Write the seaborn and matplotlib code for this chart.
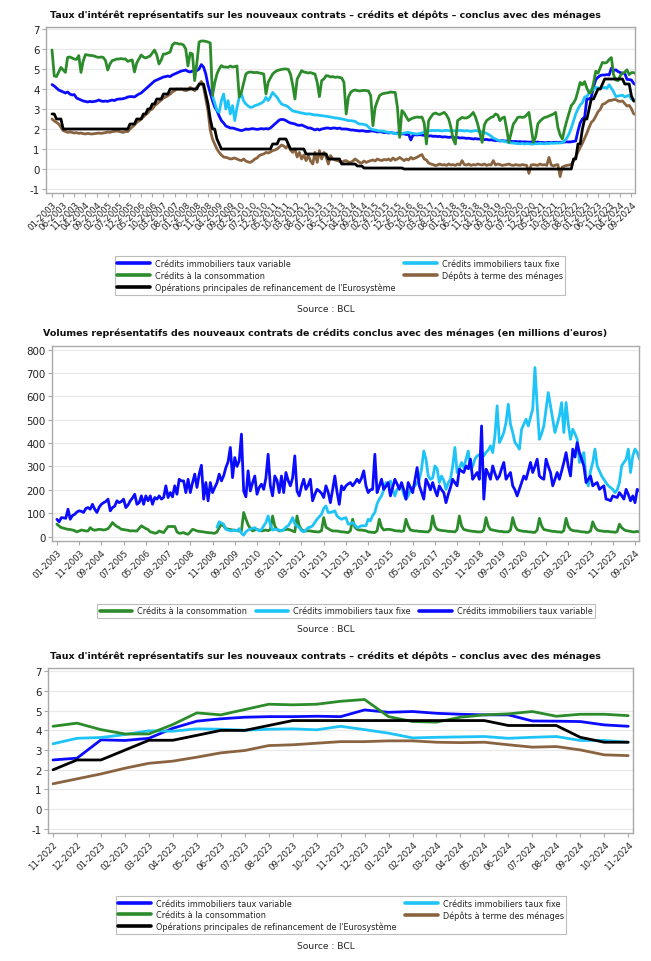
import numpy as np
import pandas as pd
import matplotlib
matplotlib.use("Agg")
import matplotlib.pyplot as plt
from matplotlib.lines import Line2D
import seaborn as sns

# ---------------- data (monthly, 01-2003 .. 11-2024) ----------------
START_YEAR = 2003

rate_variable = [
    4.22, 4.15, 4.05, 3.95, 3.9, 3.85, 3.8, 3.85, 3.75, 3.7, 3.72, 3.55,
    3.5, 3.45, 3.4, 3.38, 3.35, 3.38, 3.36, 3.38, 3.4, 3.45, 3.4, 3.38,
    3.4, 3.38, 3.42, 3.45, 3.42, 3.48, 3.5, 3.5, 3.52, 3.55, 3.6, 3.62,
    3.62, 3.6, 3.68, 3.75, 3.8, 3.9, 4.0, 4.1, 4.2, 4.3, 4.4, 4.45,
    4.5, 4.55, 4.6, 4.62, 4.65, 4.62, 4.7, 4.75, 4.8, 4.85, 4.9, 4.92,
    4.95, 4.88, 4.85, 4.9, 4.9, 4.92, 5.0, 5.22, 5.1, 4.75, 4.2, 3.8,
    3.42, 3.1, 2.92, 2.65, 2.42, 2.3, 2.15, 2.1, 2.05, 2.05, 2.02, 1.98,
    1.95, 1.92, 1.95, 2.0, 1.98, 2.0, 2.02, 2.0, 1.98, 2.0, 2.02, 2.0,
    2.02, 2.0, 2.05, 2.15, 2.25, 2.35, 2.45, 2.48, 2.47, 2.42, 2.35, 2.3,
    2.28, 2.25, 2.2, 2.18, 2.2, 2.15, 2.1, 2.05, 2.05, 2.0, 1.95, 2.0,
    1.95, 2.0, 2.02, 2.05, 2.05, 2.02, 2.05, 2.05, 2.02, 2.05, 2.0, 2.0,
    2.0, 1.98, 1.95, 1.95, 1.93, 1.92, 1.9, 1.92, 1.9, 1.88, 1.88, 1.9,
    1.9, 1.88, 1.85, 1.87, 1.85, 1.82, 1.83, 1.8, 1.82, 1.8, 1.78, 1.8,
    1.78, 1.75, 1.76, 1.72, 1.74, 1.45, 1.7, 1.71, 1.7, 1.72, 1.7, 1.68,
    1.67, 1.65, 1.66, 1.63, 1.64, 1.62, 1.63, 1.6, 1.61, 1.6, 1.58, 1.6,
    1.58, 1.57, 1.58, 1.55, 1.56, 1.55, 1.53, 1.54, 1.52, 1.5, 1.52, 1.5,
    1.5, 1.48, 1.47, 1.48, 1.45, 1.46, 1.44, 1.42, 1.43, 1.4, 1.42, 1.4,
    1.4, 1.38, 1.39, 1.37, 1.38, 1.36, 1.37, 1.35, 1.36, 1.35, 1.34, 1.35,
    1.34, 1.33, 1.35, 1.32, 1.33, 1.31, 1.32, 1.33, 1.32, 1.33, 1.34, 1.33,
    1.34, 1.33, 1.35, 1.36, 1.35, 1.36, 1.38, 1.4, 1.9, 2.3, 2.5, 2.59,
    3.52, 3.49, 3.6, 4.11, 4.47, 4.59, 4.67, 4.7, 4.7, 4.72, 4.7, 5.04,
    4.92, 4.96, 4.87, 4.82, 4.79, 4.79, 4.48, 4.47, 4.45, 4.28, 4.21,
]

# fixed-rate mortgages start in 01-2009
FIXED_START = 72
rate_fixed = [
    3.67, 3.3, 2.95, 2.83, 3.42, 3.75, 3.0, 3.42, 2.75, 3.17, 2.42, 3.08,
    3.58, 3.75, 3.4, 3.25, 3.15, 3.08, 3.1, 3.17, 3.2, 3.25, 3.3, 3.38,
    3.58, 3.42, 3.6, 3.83, 3.7, 3.58, 3.4, 3.25, 3.2, 3.17, 3.1, 3.0,
    2.9, 2.88, 2.85, 2.83, 2.8, 2.78, 2.75, 2.76, 2.75, 2.72, 2.7, 2.7,
    2.68, 2.67, 2.65, 2.64, 2.62, 2.6, 2.58, 2.55, 2.55, 2.52, 2.5, 2.48,
    2.45, 2.42, 2.42, 2.4, 2.38, 2.3, 2.25, 2.25, 2.22, 2.2, 2.1, 2.0,
    1.97, 1.95, 1.92, 1.9, 1.9, 1.88, 1.85, 1.83, 1.82, 1.8, 1.78, 1.75,
    1.76, 1.78, 1.8, 1.82, 1.83, 1.8, 1.78, 1.76, 1.75, 1.78, 1.8, 1.85,
    1.88, 1.9, 1.92, 1.93, 1.92, 1.93, 1.92, 1.9, 1.92, 1.93, 1.92, 1.9,
    1.92, 1.9, 1.92, 1.93, 1.92, 1.9, 1.92, 1.9, 1.88, 1.9, 1.92, 1.9,
    1.88, 1.85, 1.82, 1.78, 1.72, 1.65, 1.55, 1.5, 1.45, 1.42, 1.4, 1.38,
    1.35, 1.32, 1.3, 1.3, 1.28, 1.27, 1.26, 1.28, 1.25, 1.27, 1.26, 1.25,
    1.25, 1.27, 1.26, 1.28, 1.27, 1.26, 1.28, 1.27, 1.3, 1.28, 1.3, 1.3,
    1.3, 1.32, 1.4, 1.55, 1.75, 2.05, 2.4, 2.75, 3.0, 3.2, 3.32, 3.6,
    3.64, 3.79, 3.98, 3.96, 4.08, 4.06, 4.01, 4.06, 4.08, 4.03, 4.21, 4.04,
    3.86, 3.62, 3.65, 3.67, 3.69, 3.6, 3.65, 3.69, 3.49, 3.49, 3.4,
]

rate_consumption = [
    5.95, 4.65, 4.62, 4.85, 5.08, 4.95, 4.83, 5.58, 5.6, 5.55, 5.5, 5.48,
    5.67, 4.83, 5.4, 5.72, 5.7, 5.68, 5.67, 5.65, 5.6, 5.58, 5.6, 5.58,
    5.42, 4.95, 5.25, 5.42, 5.45, 5.5, 5.5, 5.52, 5.5, 5.5, 5.38, 5.42,
    5.45, 4.85, 5.3, 5.5, 5.7, 5.6, 5.55, 5.6, 5.65, 5.8, 5.95, 5.7,
    5.25, 5.45, 5.75, 5.75, 5.8, 5.85, 6.2, 6.3, 6.28, 6.25, 6.25, 6.2,
    6.0, 5.15, 5.8, 5.75, 4.42, 5.3, 6.35, 6.4, 6.4, 6.38, 6.35, 6.3,
    3.67, 4.3, 4.75, 5.0, 5.17, 5.1, 5.1, 5.08, 5.15, 5.1, 5.12, 5.15,
    3.6, 3.85, 4.3, 4.75, 4.83, 4.85, 4.83, 4.82, 4.83, 4.8, 4.78, 4.75,
    3.75, 4.33, 4.55, 4.75, 4.85, 4.92, 4.95, 4.98, 5.0, 5.0, 4.98, 4.75,
    4.2, 3.5, 4.5, 4.7, 4.92, 4.85, 4.83, 4.8, 4.82, 4.78, 4.75, 4.33,
    3.62, 4.42, 4.5, 4.67, 4.65, 4.6, 4.62, 4.58, 4.6, 4.58, 4.55, 4.33,
    2.75, 3.6, 3.83, 3.92, 3.95, 3.92, 3.9, 3.92, 3.93, 3.92, 3.9, 3.67,
    2.17, 3.08, 3.4, 3.67, 3.75, 3.78, 3.8, 3.82, 3.85, 3.83, 3.83, 3.08,
    1.58, 2.92, 2.8, 2.6, 2.42, 2.5, 2.55, 2.58, 2.6, 2.58, 2.6, 2.3,
    1.25, 2.42, 2.6, 2.75, 2.8, 2.75, 2.72, 2.78, 2.83, 2.7, 2.5, 2.08,
    1.5, 1.25, 2.42, 2.5, 2.58, 2.55, 2.55, 2.6, 2.7, 2.83, 2.6, 2.25,
    1.8, 1.33, 2.2, 2.42, 2.5, 2.58, 2.62, 2.75, 2.7, 2.42, 2.55, 2.6,
    2.0, 1.33, 1.8, 2.25, 2.4, 2.58, 2.6, 2.58, 2.6, 2.7, 2.83, 2.08,
    1.33, 1.6, 2.25, 2.4, 2.5, 2.58, 2.6, 2.65, 2.7, 2.75, 2.83, 2.08,
    1.7, 1.5, 2.0, 2.42, 2.8, 3.17, 3.3, 3.5, 3.9, 4.33, 4.21, 4.37,
    4.04, 3.82, 3.82, 4.3, 4.89, 4.79, 5.06, 5.33, 5.3, 5.33, 5.48, 5.57,
    4.7, 4.45, 4.42, 4.67, 4.79, 4.84, 4.96, 4.72, 4.82, 4.82, 4.75,
]

rate_deposits = [
    2.5, 2.4, 2.33, 2.25, 2.08, 1.92, 1.88, 1.83, 1.85, 1.83, 1.8, 1.82,
    1.78, 1.8, 1.77, 1.75, 1.78, 1.76, 1.75, 1.77, 1.78, 1.8, 1.78, 1.8,
    1.82, 1.85, 1.83, 1.87, 1.88, 1.9, 1.88, 1.85, 1.83, 1.88, 1.87, 2.0,
    2.1, 2.2, 2.33, 2.4, 2.5, 2.6, 2.72, 2.8, 2.95, 3.0, 3.15, 3.25,
    3.35, 3.45, 3.55, 3.6, 3.67, 3.75, 3.85, 3.92, 4.0, 3.98, 4.0, 3.95,
    3.92, 3.95, 4.08, 4.0, 3.92, 4.1, 4.2, 4.38, 4.1, 3.5, 2.9, 1.95,
    1.5, 1.25, 1.0, 0.83, 0.7, 0.6, 0.58, 0.55, 0.5, 0.52, 0.55, 0.5,
    0.45, 0.42, 0.5, 0.4, 0.35, 0.33, 0.4, 0.5, 0.55, 0.67, 0.72, 0.75,
    0.83, 0.8, 0.85, 0.92, 0.95, 1.0, 1.1, 1.2, 1.15, 1.05, 1.2, 0.95,
    0.83, 1.0, 0.6, 0.83, 0.5, 0.7, 0.42, 0.67, 0.4, 0.25, 0.83, 0.33,
    0.92, 0.5, 0.83, 0.6, 0.25, 0.67, 0.5, 0.45, 0.42, 0.38, 0.33, 0.4,
    0.42, 0.35, 0.33, 0.4, 0.5, 0.42, 0.33, 0.3, 0.4, 0.33, 0.38, 0.42,
    0.45, 0.4, 0.5, 0.45, 0.42, 0.48, 0.45, 0.5, 0.42, 0.55, 0.45, 0.5,
    0.58, 0.5, 0.42, 0.5, 0.45, 0.58, 0.5, 0.55, 0.6, 0.67, 0.72, 0.5,
    0.45, 0.3, 0.25, 0.22, 0.17, 0.2, 0.25, 0.2, 0.22, 0.18, 0.25, 0.2,
    0.22, 0.18, 0.25, 0.2, 0.42, 0.22, 0.2, 0.25, 0.18, 0.22, 0.2, 0.25,
    0.22, 0.2, 0.25, 0.18, 0.22, 0.2, 0.42, 0.2, 0.25, 0.22, 0.18, 0.2,
    0.22, 0.25, 0.2, 0.18, 0.22, 0.2, 0.18, 0.22, 0.2, 0.18, -0.22, 0.2,
    0.22, 0.2, 0.18, 0.25, 0.2, 0.22, 0.18, 0.58, 0.2, 0.15, 0.2, 0.22,
    -0.38, 0.1, 0.15, 0.18, 0.2, 0.22, 0.4, 0.6, 0.85, 1.08, 1.29, 1.54,
    1.79, 2.08, 2.33, 2.44, 2.64, 2.86, 2.98, 3.23, 3.27, 3.35, 3.43, 3.43,
    3.47, 3.47, 3.4, 3.38, 3.4, 3.27, 3.15, 3.18, 3.01, 2.76, 2.72,
]

rate_mro = [
    2.75, 2.75, 2.5, 2.5, 2.5, 2.0, 2.0, 2.0, 2.0, 2.0, 2.0, 2.0,
    2.0, 2.0, 2.0, 2.0, 2.0, 2.0, 2.0, 2.0, 2.0, 2.0, 2.0, 2.0,
    2.0, 2.0, 2.0, 2.0, 2.0, 2.0, 2.0, 2.0, 2.0, 2.0, 2.0, 2.25,
    2.25, 2.25, 2.5, 2.5, 2.5, 2.75, 2.75, 3.0, 3.0, 3.25, 3.25, 3.5,
    3.5, 3.5, 3.75, 3.75, 3.75, 4.0, 4.0, 4.0, 4.0, 4.0, 4.0, 4.0,
    4.0, 4.0, 4.0, 4.0, 4.0, 4.0, 4.25, 4.25, 4.25, 3.75, 3.25, 2.5,
    2.0, 2.0, 1.5, 1.25, 1.0, 1.0, 1.0, 1.0, 1.0, 1.0, 1.0, 1.0,
    1.0, 1.0, 1.0, 1.0, 1.0, 1.0, 1.0, 1.0, 1.0, 1.0, 1.0, 1.0,
    1.0, 1.0, 1.0, 1.25, 1.25, 1.25, 1.5, 1.5, 1.5, 1.5, 1.25, 1.0,
    1.0, 1.0, 1.0, 1.0, 1.0, 1.0, 0.75, 0.75, 0.75, 0.75, 0.75, 0.75,
    0.75, 0.75, 0.75, 0.75, 0.5, 0.5, 0.5, 0.5, 0.5, 0.5, 0.25, 0.25,
    0.25, 0.25, 0.25, 0.25, 0.25, 0.15, 0.15, 0.15, 0.05, 0.05, 0.05, 0.05,
    0.05, 0.05, 0.05, 0.05, 0.05, 0.05, 0.05, 0.05, 0.05, 0.05, 0.05, 0.05,
    0.05, 0.05, 0.0, 0.0, 0.0, 0.0, 0.0, 0.0, 0.0, 0.0, 0.0, 0.0,
    0.0, 0.0, 0.0, 0.0, 0.0, 0.0, 0.0, 0.0, 0.0, 0.0, 0.0, 0.0,
    0.0, 0.0, 0.0, 0.0, 0.0, 0.0, 0.0, 0.0, 0.0, 0.0, 0.0, 0.0,
    0.0, 0.0, 0.0, 0.0, 0.0, 0.0, 0.0, 0.0, 0.0, 0.0, 0.0, 0.0,
    0.0, 0.0, 0.0, 0.0, 0.0, 0.0, 0.0, 0.0, 0.0, 0.0, 0.0, 0.0,
    0.0, 0.0, 0.0, 0.0, 0.0, 0.0, 0.0, 0.0, 0.0, 0.0, 0.0, 0.0,
    0.0, 0.0, 0.0, 0.0, 0.0, 0.0, 0.5, 0.5, 1.25, 1.25, 2.0, 2.5,
    2.5, 3.0, 3.5, 3.5, 3.75, 4.0, 4.0, 4.25, 4.5, 4.5, 4.5, 4.5,
    4.5, 4.5, 4.5, 4.5, 4.5, 4.25, 4.25, 4.25, 3.65, 3.4, 3.4,
]

vol_consumption = [
    53, 45, 38, 36, 33, 31, 30, 28, 25, 20, 24, 28,
    26, 24, 24, 38, 30, 27, 29, 31, 30, 28, 30, 34,
    45, 60, 50, 43, 38, 31, 30, 28, 27, 24, 25, 24,
    24, 35, 46, 40, 34, 30, 20, 18, 14, 16, 24, 20,
    17, 30, 43, 43, 43, 43, 20, 14, 15, 17, 12, 10,
    20, 31, 28, 24, 22, 21, 20, 18, 17, 16, 15, 14,
    20, 38, 53, 45, 34, 32, 30, 28, 27, 25, 24, 24,
    103, 75, 50, 35, 24, 28, 31, 27, 24, 26, 28, 25,
    30, 88, 45, 30, 24, 26, 28, 30, 31, 28, 24, 20,
    88, 46, 30, 24, 24, 25, 24, 22, 21, 20, 20, 25,
    81, 40, 34, 28, 24, 24, 24, 22, 20, 20, 18, 17,
    25, 74, 40, 31, 28, 28, 26, 25, 20, 19, 18, 17,
    25, 74, 40, 28, 30, 31, 30, 28, 25, 24, 24, 22,
    25, 74, 45, 28, 26, 24, 24, 22, 22, 21, 20, 20,
    30, 88, 45, 31, 28, 26, 25, 24, 22, 22, 21, 20,
    30, 88, 45, 30, 28, 25, 24, 22, 22, 20, 20, 20,
    28, 81, 45, 30, 28, 26, 24, 22, 22, 20, 20, 20,
    28, 81, 46, 30, 26, 24, 22, 22, 20, 20, 18, 18,
    28, 78, 46, 30, 28, 26, 24, 22, 22, 20, 20, 18,
    26, 78, 44, 30, 26, 24, 24, 22, 20, 20, 18, 18,
    24, 63, 40, 28, 25, 24, 22, 22, 22, 20, 20, 18,
    22, 53, 38, 30, 25, 24, 22, 20, 20, 22, 20,
]

vol_fixed = [  # from 01-2009
    40, 63, 58, 53, 31, 28, 24, 26, 28, 24, 34, 14,
    6, 20, 28, 32, 35, 38, 30, 24, 30, 45, 60, 88,
    50, 28, 31, 30, 28, 24, 30, 40, 46, 60, 81, 55,
    45, 38, 25, 20, 28, 38, 40, 46, 60, 74, 85, 95,
    120, 131, 103, 103, 106, 110, 88, 80, 74, 78, 81, 53,
    55, 60, 50, 38, 42, 46, 46, 46, 74, 67, 90, 103,
    140, 160, 174, 200, 231, 217, 238, 200, 174, 202, 210, 217,
    180, 160, 174, 200, 210, 217, 230, 245, 288, 366, 331, 260,
    245, 250, 302, 290, 231, 259, 240, 202, 230, 245, 300, 381,
    274, 290, 317, 295, 330, 366, 288, 300, 331, 345, 350, 359,
    345, 360, 370, 388, 359, 431, 559, 402, 420, 445, 488, 566,
    480, 445, 402, 390, 374, 459, 480, 502, 473, 510, 545, 723,
    559, 416, 440, 473, 545, 616, 560, 502, 445, 480, 516, 573,
    445, 573, 480, 416, 459, 440, 416, 317, 340, 359, 245, 217,
    280, 317, 374, 302, 280, 259, 245, 230, 217, 210, 202, 188,
    200, 231, 302, 317, 330, 374, 274, 345, 374, 360, 331,
]

vol_variable = [
    74, 63, 81, 80, 78, 117, 74, 90, 95, 105, 110, 108,
    103, 120, 124, 117, 138, 117, 103, 125, 138, 145, 150, 160,
    110, 124, 130, 153, 145, 150, 160, 124, 135, 153, 165, 181,
    138, 145, 174, 138, 174, 153, 174, 138, 167, 160, 174, 160,
    167, 217, 167, 188, 170, 217, 181, 245, 238, 238, 188, 245,
    188, 230, 267, 210, 267, 305, 160, 231, 153, 231, 188, 210,
    230, 267, 238, 260, 295, 320, 381, 252, 338, 300, 324, 438,
    195, 170, 281, 195, 230, 259, 181, 210, 224, 202, 250, 352,
    217, 174, 259, 240, 188, 259, 188, 274, 240, 217, 250, 345,
    195, 174, 215, 245, 202, 220, 245, 153, 180, 202, 195, 185,
    167, 217, 190, 145, 200, 259, 190, 138, 217, 200, 217, 225,
    231, 217, 230, 245, 231, 250, 281, 217, 188, 200, 202, 352,
    188, 215, 245, 202, 215, 231, 174, 210, 245, 225, 202, 231,
    200, 160, 231, 210, 188, 240, 295, 217, 190, 160, 245, 225,
    200, 231, 200, 174, 217, 200, 188, 145, 180, 210, 245, 230,
    217, 288, 280, 274, 302, 290, 331, 245, 260, 274, 245, 473,
    160, 288, 270, 245, 302, 270, 245, 259, 290, 317, 245, 260,
    274, 217, 200, 174, 202, 230, 259, 245, 280, 317, 274, 300,
    331, 259, 250, 245, 331, 300, 274, 217, 245, 274, 245, 280,
    317, 359, 300, 259, 374, 340, 402, 359, 330, 302, 231, 245,
    259, 217, 225, 231, 202, 210, 217, 160, 158, 153, 174, 170,
    167, 188, 175, 160, 202, 180, 153, 174, 145, 202, 195,
]

ZOOM_START = 238  # 11-2022, first month of the third panel

TITLE_RATES = ("Taux d'intérêt représentatifs sur les nouveaux contrats \u2013 crédits "
               "et dépôts \u2013 conclus avec des ménages")
TITLE_VOL = ("Volumes représentatifs des nouveaux contrats de crédits conclus avec "
             "des ménages (en millions d'euros)")
SOURCE = "Source : BCL"

N_VAR = "Crédits immobiliers taux variable"
N_FIX = "Crédits immobiliers taux fixe"
N_CONS = "Crédits à la consommation"
N_DEP = "Dépôts à terme des ménages"
N_MRO = "Opérations principales de refinancement de l'Eurosystème"

COLORS = {N_VAR: "#0b0bff", N_FIX: "#1ec3f7", N_CONS: "#2c8c2c",
          N_DEP: "#8a6440", N_MRO: "#000000"}


def month_label(i):
    return f"{i % 12 + 1:02d}-{START_YEAR + i // 12}"


def long_frame(series, start_offsets):
    rows = []
    for name, vals in series.items():
        off = start_offsets.get(name, 0)
        rows.append(pd.DataFrame({"m": np.arange(off, off + len(vals)),
                                  "v": vals, "serie": name}))
    return pd.concat(rows, ignore_index=True)


rates = long_frame({N_VAR: rate_variable, N_FIX: rate_fixed, N_CONS: rate_consumption,
                    N_DEP: rate_deposits, N_MRO: rate_mro}, {N_FIX: FIXED_START})
vols = long_frame({N_CONS: vol_consumption, N_FIX: vol_fixed, N_VAR: vol_variable},
                  {N_FIX: FIXED_START})
zoom = rates[rates["m"] >= ZOOM_START].copy()
zoom["m"] = zoom["m"] - ZOOM_START

# ---------------- style ----------------
sns.set_theme(style="white")
plt.rcParams["font.family"] = ["DejaVu Sans"]
GRID = "#e9e9e9"
SPINE = "#a9a9a9"
TXT = "#222222"

W, H = 651, 962
fig = plt.figure(figsize=(W / 100, H / 100), dpi=100)


def add_ax(l, t, r, b):
    return fig.add_axes([l / W, 1 - b / H, (r - l) / W, (b - t) / H])


def style_ax(ax, yticks, xticks, xlabels, xlim, ylim):
    ax.set_xlim(*xlim)
    ax.set_ylim(*ylim)
    ax.set_yticks(yticks)
    ax.set_yticklabels([str(t) for t in yticks], fontsize=7.4, color=TXT)
    ax.set_xticks(xticks)
    ax.set_xticklabels(xlabels, rotation=45, ha="right", rotation_mode="anchor",
                       fontsize=6.2, color=TXT)
    ax.grid(axis="y", color=GRID, linewidth=0.9)
    ax.grid(axis="x", visible=False)
    ax.set_axisbelow(True)
    for s in ax.spines.values():
        s.set_color(SPINE)
        s.set_linewidth(1.0)
    ax.tick_params(axis="both", which="major", length=3, width=0.8, color=SPINE,
                   pad=1.5, bottom=True, left=True)
    ax.set_xlabel("")
    ax.set_ylabel("")


def draw(ax, df, order, lw=2.0):
    sns.lineplot(data=df, x="m", y="v", hue="serie", hue_order=order,
                 palette=COLORS, linewidth=lw, estimator=None, legend=False, ax=ax)


def add_legend(names, ncol, cx, cy):
    handles = [Line2D([0], [0], color=COLORS[n], lw=2.6) for n in names]
    leg = fig.legend(handles, names, ncol=ncol, loc="center",
                     bbox_to_anchor=(cx / W, 1 - cy / H), fontsize=5.9,
                     frameon=True, fancybox=False, framealpha=1, edgecolor="#bdbdbd",
                     handlelength=4.0, handletextpad=0.6, columnspacing=1.0,
                     labelspacing=0.3, borderpad=0.35)
    leg.get_frame().set_linewidth(0.8)
    for t in leg.get_texts():
        t.set_color(TXT)
    return leg


def title(text, cy):
    fig.text(0.5, 1 - cy / H, text, ha="center", va="center", fontsize=6.8,
             fontweight="bold", color="#111111")


def source(cy):
    fig.text(0.5, 1 - cy / H, SOURCE, ha="center", va="center", fontsize=6.6, color=TXT)


n_total = len(rate_variable)

# ---------------- panel 1 ----------------
ax1 = add_ax(46, 28, 635, 194)
draw(ax1, rates, [N_VAR, N_FIX, N_CONS, N_DEP, N_MRO])
t1 = list(range(0, n_total, 5))
style_ax(ax1, list(range(-1, 8)), t1, [month_label(i) for i in t1],
         (-2.7, 261.6), (-1.2, 7.1))
title(TITLE_RATES, 15)
add_legend([N_VAR, N_CONS, N_MRO, N_FIX, N_DEP], 2, 340, 276.5)
source(309)

# ---------------- panel 2 ----------------
ax2 = add_ax(52, 347, 639, 542)
draw(ax2, vols, [N_CONS, N_FIX, N_VAR])
t2 = list(range(0, n_total, 10))
style_ax(ax2, list(range(0, 900, 100)), t2, [month_label(i) for i in t2],
         (-2.2, 261.8), (-19, 815))
title(TITLE_VOL, 333)
add_legend([N_CONS, N_FIX, N_VAR], 3, 346, 612)
source(630)

# ---------------- panel 3 ----------------
ax3 = add_ax(48, 669, 633, 834)
draw(ax3, zoom, [N_VAR, N_FIX, N_CONS, N_DEP, N_MRO])
t3 = list(range(0, n_total - ZOOM_START))
style_ax(ax3, list(range(-1, 8)), t3, [month_label(ZOOM_START + i) for i in t3],
         (-0.21, 24.2), (-1.21, 7.17))
title(TITLE_RATES, 656)
add_legend([N_VAR, N_CONS, N_MRO, N_FIX, N_DEP], 2, 341, 916)
source(947)

fig.savefig("out.png", dpi=100)
